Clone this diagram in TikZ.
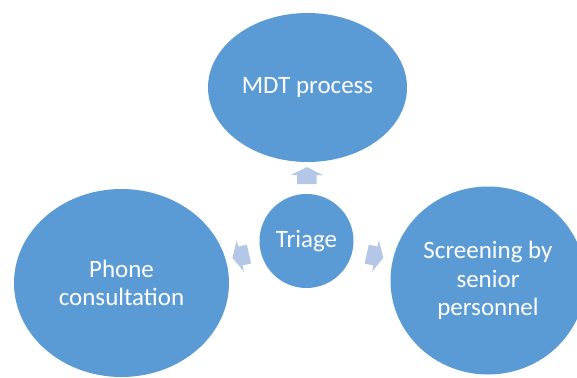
\documentclass[tikz,border=0pt]{standalone}
\usepackage{fontspec}
\setmainfont{Carlito}
\usetikzlibrary{shapes.geometric,shapes.arrows}
\definecolor{smartblue}{HTML}{5B9BD5}
\definecolor{smartpale}{HTML}{B4C7E7}

\begin{document}
\begin{tikzpicture}[
        x=1pt, y=-1pt,
        every node/.style={font=\fontsize{25}{28.5}\selectfont},
        bub/.style={
          ellipse, fill=smartblue, text=white,
          inner sep=0pt, align=center,
        },
        blk/.style={
          single arrow, fill=smartpale, draw=none,
          inner xsep=0pt, inner ysep=9.5pt, minimum height=17pt,
          single arrow head extend=6.5pt, single arrow tip angle=127,
          sloped, allow upside down, midway,
        },
      ]
      \useasboundingbox (0,0) rectangle (577,377);
      \clip (0,0) rectangle (577,377);

      \node[bub, minimum width=47*2pt, minimum height=47*2pt] (triage) at (306.5,241) {Triage};
      \node[bub, minimum width=199pt, minimum height=149pt] (mdt) at (307.5,87.5) {MDT process};
      \node[bub, minimum width=215pt, minimum height=188pt] (phone) at (121.5,283) {Phone\\consultation};
      \node[bub, minimum width=195pt, minimum height=188pt] (screen) at (488,280.5) {Screening by\\senior\\personnel};

      \path (triage) -- node[blk] (atop) {} (mdt);
      \path (triage) -- node[blk] (aleft) {} (phone);
      \path (triage) -- node[blk] (aright) {} (screen);
    \end{tikzpicture}
\end{document}
